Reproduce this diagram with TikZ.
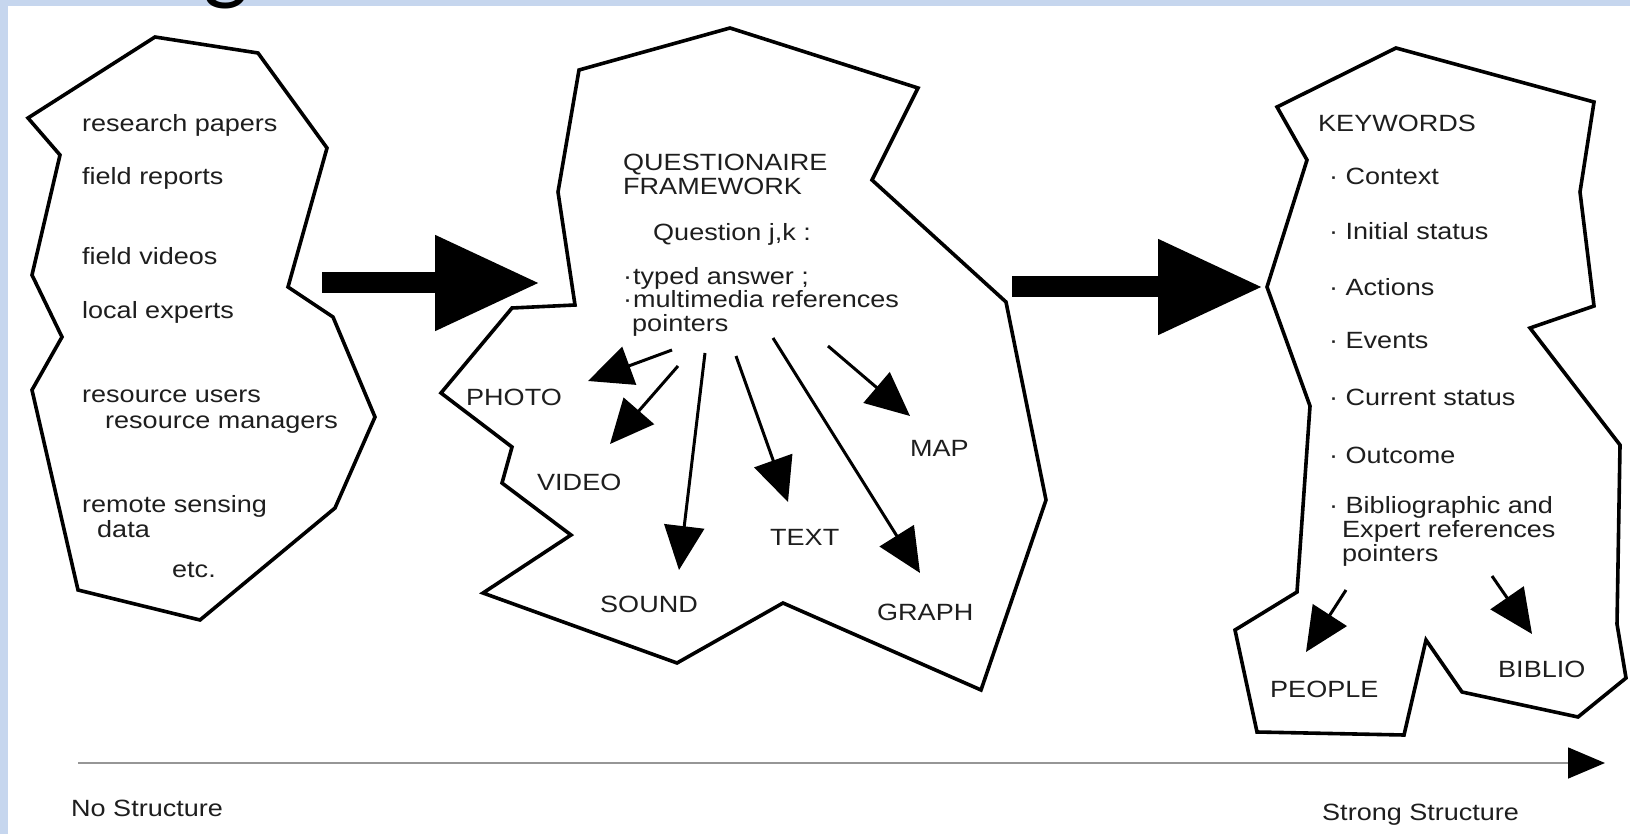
\documentclass[tikz,border=0pt]{standalone}
\usepackage{fontspec}
\setmainfont{Liberation Sans}[FakeStretch=1.15]
\newfontfamily\titlefont{Carlito}
\usetikzlibrary{arrows.meta}
\definecolor{band}{RGB}{198,214,238}
\definecolor{ink}{RGB}{30,30,30}
\definecolor{axisgray}{RGB}{150,150,150}
\begin{document}
\begin{tikzpicture}[x=1pt,y=-1pt,
  blob/.style={draw=black,line width=3.6pt,line join=miter},
  txt/.style={font=\fontsize{23.5}{26}\selectfont,text=ink,inner sep=0pt,anchor=base west},
  ptr/.style={line width=3pt,-{Triangle[length=44pt,width=40pt]}},
  bigarrow/.style={line width=21pt,-{Triangle[length=105pt,width=90pt]}},
  axisline/.style={draw=axisgray,line width=1.6pt,-{Triangle[length=37pt,width=31pt,color=black,fill=black]}}
]
\useasboundingbox (0,0) rectangle (1630,834);
\begin{scope}
\clip (0,0) rectangle (1630,834);
\fill[white] (0,0) rectangle (1630,834);
\fill[band] (0,0) rectangle (1630,6);
\fill[band] (0,0) rectangle (8,834);
\node[font=\titlefont\fontsize{96}{96}\selectfont,inner sep=0pt,anchor=base west] (title) at (203,-7) {g};
\end{scope}

% blobs
\draw[blob] (28,118) -- (155,37) -- (258,53) -- (327,148) -- (288,287) -- (333,317) -- (375,417) -- (335,508) -- (200,620) -- (78,590) -- (32,390) -- (62,337) -- (32,275) -- (60,155) -- cycle;
\draw[blob] (579,70) -- (730,28) -- (918,88) -- (872,180) -- (1006,302) -- (1046,500) -- (981,690) -- (783,603) -- (677,663) -- (483,593) -- (571,535) -- (502,483) -- (512,447) -- (441,393) -- (512,308) -- (575,305) -- (558,192) -- cycle;
\draw[blob] (1277,107) -- (1396,48) -- (1594,102) -- (1580,192) -- (1594,306) -- (1530,328) -- (1620,445) -- (1617,624) -- (1626,678) -- (1578,717) -- (1462,692) -- (1426,640) -- (1404,735) -- (1257,732) -- (1235,630) -- (1297,592) -- (1310,406) -- (1267,287) -- (1307,160) -- cycle;

% left texts
\node[txt] (rp) at (82,132) {research papers};
\node[txt] (fr) at (82,185) {field reports};
\node[txt] (fv) at (82,265) {field videos};
\node[txt] (le) at (82,318) {local experts};
\node[txt] (ru) at (82,402) {resource users};
\node[txt] (rm) at (105,428) {resource managers};
\node[txt] (rs) at (82,512) {remote sensing};
\node[txt] (da) at (97,537) {data};
\node[txt] (etc) at (172,577) {etc.};

% middle texts
\node[txt] (q1) at (623,171) {QUESTIONAIRE};
\node[txt] (q2) at (623,195) {FRAMEWORK};
\node[txt] (qj) at (653,241) {Question j,k :};
\node[txt] (ta) at (623,284) {·\hspace{1pt}typed answer ;};
\node[txt] (mm) at (623,307) {·\hspace{1pt}multimedia references};
\node[txt] (pt) at (632,331) {pointers};
\node[txt] (photo) at (466,405) {PHOTO};
\node[txt] (video) at (537,490) {VIDEO};
\node[txt] (sound) at (600,612) {SOUND};
\node[txt] (text) at (770,545) {TEXT};
\node[txt] (map) at (910,456) {MAP};
\node[txt] (graph) at (877,620) {GRAPH};

% right texts
\node[txt] (kw) at (1318,132) {KEYWORDS};
\node[txt] (k1) at (1329,185) {· Context};
\node[txt] (k2) at (1329,240) {· Initial status};
\node[txt] (k3) at (1329,295) {· Actions};
\node[txt] (k4) at (1329,348) {· Events};
\node[txt] (k5) at (1329,405) {· Current status};
\node[txt] (k6) at (1329,463) {· Outcome};
\node[txt] (k7) at (1329,513) {· Bibliographic and};
\node[txt] (k8) at (1342,537) {Expert references};
\node[txt] (k9) at (1342,561) {pointers};
\node[txt] (people) at (1270,697) {PEOPLE};
\node[txt] (biblio) at (1498,677) {BIBLIO};

\node[txt] (nos) at (71,816) {No Structure};
\node[txt] (sts) at (1322,820) {Strong Structure};

% big arrows
\coordinate (la0) at (322,283); \coordinate (la1) at (540,283);
\coordinate (ra0) at (1012,287); \coordinate (ra1) at (1263,287);
\draw[bigarrow] (la0) -- (la1);
\draw[bigarrow] (ra0) -- (ra1);

% pointer arrows
\coordinate (p0) at (672,350); \coordinate (p1) at (588,381);
\coordinate (v0) at (678,366); \coordinate (v1) at (610,444);
\coordinate (s0) at (705,353); \coordinate (s1) at (679,570);
\coordinate (t0) at (736,356); \coordinate (t1) at (788,502);
\coordinate (g0) at (773,338); \coordinate (g1) at (920,573);
\coordinate (m0) at (828,346); \coordinate (m1) at (910,416);
\draw[ptr] (p0) -- (p1);
\draw[ptr] (v0) -- (v1);
\draw[ptr] (s0) -- (s1);
\draw[ptr] (t0) -- (t1);
\draw[ptr] (g0) -- (g1);
\draw[ptr] (m0) -- (m1);
\coordinate (e0) at (1346,590); \coordinate (e1) at (1306,652);
\coordinate (b0) at (1492,576); \coordinate (b1) at (1532,634);
\draw[ptr] (e0) -- (e1);
\draw[ptr] (b0) -- (b1);

% axis
\coordinate (ax0) at (78,763); \coordinate (ax1) at (1605,763);
\draw[axisline] (ax0) -- (ax1);
\end{tikzpicture}
\end{document}
